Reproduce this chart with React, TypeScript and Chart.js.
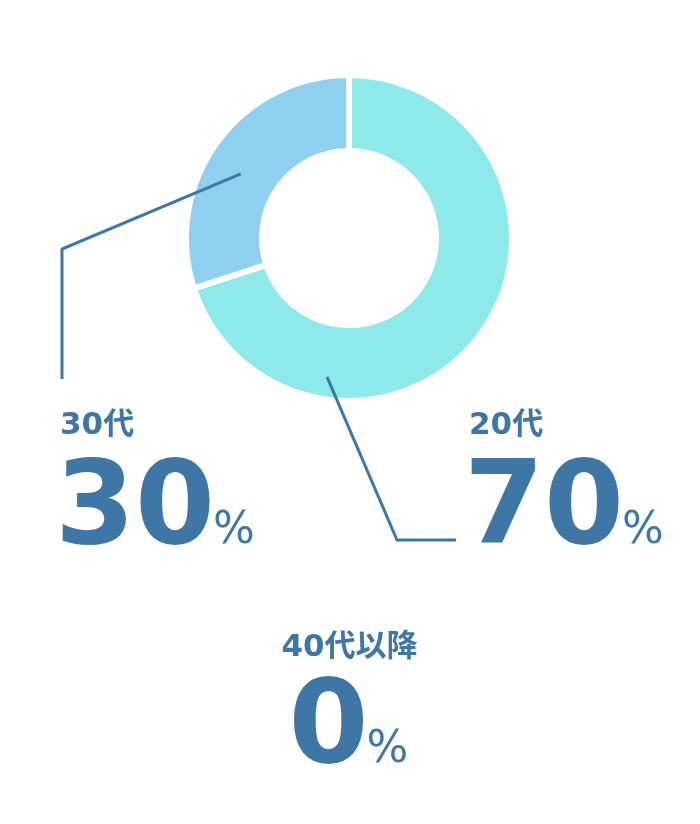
import React, { useEffect, useRef } from 'react';
import { Chart, registerables } from 'chart.js';

Chart.register(...registerables);

const categories = ['20代', '30代', '40代以降'];
const values = [70, 30, 0];
const sliceColors = ['#8eeaea', '#8fcff0', '#8fcff0'];

const TEXT_COLOR = '#3e77a5';
const TITLE_FONT = 'bold 31px "DejaVu Sans", "Noto Sans CJK JP", sans-serif';
const NUMBER_FONT = 'bold 115px "DejaVu Sans", sans-serif';
const PERCENT_FONT = '44px "DejaVu Sans", sans-serif';

// leader lines: spot on the slice (fraction along / across the ring), then bends relative to the centre
const leaders = [
  { index: 1, along: 0.45, across: 0.51, bends: [[-287, 11], [-287, 141]] },
  { index: 0, along: 0.75, across: 0.705, bends: [[48, 302], [107, 302]] },
];

// label blocks, offsets relative to the doughnut centre
const labelSpots = [
  { index: 0, x: 122, align: 'left', title: 196, value: 305 },
  { index: 1, x: -287, align: 'left', title: 196, value: 305 },
  { index: 2, x: 1, align: 'center', title: 418, value: 524 },
];

const calloutPlugin = {
  id: 'callouts',
  afterDraw(chart: Chart) {
    const ctx = chart.ctx;
    const meta = chart.getDatasetMeta(0);
    const { x: cx, y: cy } = (meta.data[0] as any).getProps(['x', 'y'], true);

    ctx.save();
    ctx.strokeStyle = TEXT_COLOR;
    ctx.lineWidth = 3;
    ctx.lineJoin = 'miter';
    leaders.forEach((l) => {
      const arc = (meta.data[l.index] as any).getProps(
        ['startAngle', 'endAngle', 'innerRadius', 'outerRadius'],
        true
      );
      const a = arc.startAngle + (arc.endAngle - arc.startAngle) * l.along;
      const r = arc.innerRadius + (arc.outerRadius - arc.innerRadius) * l.across;
      ctx.beginPath();
      ctx.moveTo(cx + Math.cos(a) * r, cy + Math.sin(a) * r);
      l.bends.forEach(([dx, dy]) => ctx.lineTo(cx + dx, cy + dy));
      ctx.stroke();
    });

    ctx.fillStyle = TEXT_COLOR;
    ctx.textBaseline = 'alphabetic';
    ctx.textAlign = 'left';
    labelSpots.forEach((s) => {
      const title = categories[s.index];
      const num = String(values[s.index]);

      ctx.font = TITLE_FONT;
      const tm = ctx.measureText(title);
      const tw = tm.actualBoundingBoxLeft + tm.actualBoundingBoxRight;
      const tInk = s.align === 'center' ? cx + s.x - tw / 2 : cx + s.x;
      ctx.fillText(title, tInk + tm.actualBoundingBoxLeft, cy + s.title);

      ctx.font = NUMBER_FONT;
      const nm = ctx.measureText(num);
      const nw = nm.actualBoundingBoxLeft + nm.actualBoundingBoxRight;
      ctx.font = PERCENT_FONT;
      const pm = ctx.measureText('%');
      const pw = pm.actualBoundingBoxLeft + pm.actualBoundingBoxRight;
      const gap = 5;
      const total = nw + gap + pw;
      const nInk = s.align === 'center' ? cx + s.x - total / 2 : cx + s.x;

      ctx.font = NUMBER_FONT;
      ctx.fillText(num, nInk + nm.actualBoundingBoxLeft, cy + s.value);
      ctx.font = PERCENT_FONT;
      ctx.fillText('%', nInk + nw + gap + pm.actualBoundingBoxLeft, cy + s.value);
    });
    ctx.restore();
  },
};

export default function App() {
  const canvasRef = useRef<HTMLCanvasElement>(null);
  const chartRef = useRef<Chart | null>(null);

  useEffect(() => {
    document.body.style.margin = '0';
    if (!canvasRef.current) return;
    if (chartRef.current) chartRef.current.destroy();

    chartRef.current = new Chart(canvasRef.current, {
      type: 'doughnut',
      data: {
        labels: categories,
        datasets: [
          {
            data: values,
            backgroundColor: sliceColors,
            borderColor: '#ffffff',
            borderWidth: 6,
          },
        ],
      },
      options: {
        responsive: false,
        animation: false,
        cutout: '53.4%',
        events: [],
        layout: { padding: { left: 183, top: 72, right: 185, bottom: 420 } },
        plugins: {
          legend: { display: false },
          tooltip: { enabled: false },
        },
      },
      plugins: [calloutPlugin],
    });

    return () => {
      if (chartRef.current) {
        chartRef.current.destroy();
        chartRef.current = null;
      }
    };
  }, []);

  return (
    <div style={{ width: 700, height: 824, background: '#ffffff' }}>
      <canvas ref={canvasRef} width={700} height={824} style={{ display: 'block' }} />
    </div>
  );
}
